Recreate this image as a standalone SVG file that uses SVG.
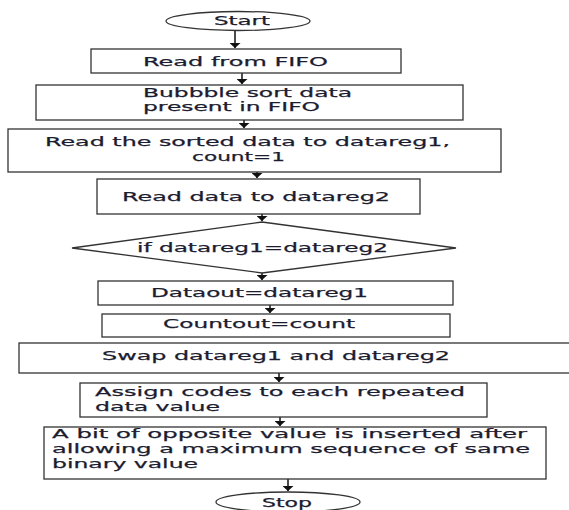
<svg xmlns="http://www.w3.org/2000/svg" width="569" height="510" viewBox="0 0 569 510">
<style>
.box{fill:#fff;stroke:#333;stroke-width:1.3}
.t{font-family:"DejaVu Sans",Verdana,sans-serif;font-size:13px;fill:#1c1c30;stroke:#1c1c30;stroke-width:0.25}
.c{stroke:#111;stroke-width:1.5;fill:none}
</style>
<defs>
<marker id="ah" viewBox="0 0 5 11" refX="5" refY="5.5" markerWidth="5" markerHeight="11" markerUnits="userSpaceOnUse" orient="auto">
<path d="M0,0 L5,5.5 L0,11 z" fill="#111"/>
</marker>
</defs>
<rect width="569" height="510" fill="#fff"/>
<g id="connectors">
<line class="c" x1="235" y1="30" x2="235" y2="48" marker-end="url(#ah)"/>
<line class="c" x1="242" y1="73" x2="242" y2="84" marker-end="url(#ah)"/>
<line class="c" x1="244" y1="120" x2="244" y2="128" marker-end="url(#ah)"/>
<line class="c" x1="257" y1="172" x2="257" y2="178" marker-end="url(#ah)"/>
<line class="c" x1="262" y1="214" x2="262" y2="221" marker-end="url(#ah)"/>
<line class="c" x1="262" y1="273" x2="262" y2="280" marker-end="url(#ah)"/>
<line class="c" x1="270" y1="305" x2="270" y2="313" marker-end="url(#ah)"/>
<line class="c" x1="279" y1="373" x2="279" y2="382" marker-end="url(#ah)"/>
<line class="c" x1="280" y1="417" x2="280" y2="426" marker-end="url(#ah)"/>
<line class="c" x1="288" y1="479" x2="288" y2="491" marker-end="url(#ah)"/>
</g>
<g id="start">
<ellipse class="box" cx="238" cy="21" rx="72" ry="9.5"/>
<text class="t" x="214" y="25" textLength="56" lengthAdjust="spacingAndGlyphs">Start</text>
</g>
<g id="read-fifo">
<rect class="box" x="91" y="49" width="310" height="24"/>
<text class="t" x="143" y="66" textLength="185" lengthAdjust="spacingAndGlyphs">Read from FIFO</text>
</g>
<g id="bubble">
<rect class="box" x="36" y="85" width="427" height="35"/>
<text class="t" x="143" y="97" textLength="209" lengthAdjust="spacingAndGlyphs">Bubbble sort data</text>
<text class="t" x="143" y="111" textLength="177" lengthAdjust="spacingAndGlyphs">present in FIFO</text>
</g>
<g id="read-sorted">
<rect class="box" x="8" y="129" width="493" height="43"/>
<text class="t" x="45" y="146" textLength="405" lengthAdjust="spacingAndGlyphs">Read the sorted data to datareg1,</text>
<text class="t" x="192" y="161" textLength="93" lengthAdjust="spacingAndGlyphs">count=1</text>
</g>
<g id="read-data2">
<rect class="box" x="97" y="179" width="323" height="35"/>
<text class="t" x="122" y="201" textLength="268" lengthAdjust="spacingAndGlyphs">Read data to datareg2</text>
</g>
<g id="decision">
<polygon class="box" points="262,222 456,248 262,273 72,248"/>
<text class="t" x="137" y="252" textLength="251" lengthAdjust="spacingAndGlyphs">if datareg1=datareg2</text>
</g>
<g id="dataout">
<rect class="box" x="98" y="281" width="355" height="24"/>
<text class="t" x="151" y="297" textLength="217" lengthAdjust="spacingAndGlyphs">Dataout=datareg1</text>
</g>
<g id="countout">
<rect class="box" x="102" y="314" width="348" height="23"/>
<text class="t" x="163" y="328" textLength="192" lengthAdjust="spacingAndGlyphs">Countout=count</text>
</g>
<g id="swap">
<rect class="box" x="19" y="343" width="560" height="30"/>
<text class="t" x="102" y="360" textLength="348" lengthAdjust="spacingAndGlyphs">Swap datareg1 and datareg2</text>
</g>
<g id="assign">
<rect class="box" x="80" y="383" width="407" height="34"/>
<text class="t" x="95" y="396" textLength="370" lengthAdjust="spacingAndGlyphs">Assign codes to each repeated</text>
<text class="t" x="95" y="411" textLength="125" lengthAdjust="spacingAndGlyphs">data value</text>
</g>
<g id="insert-bit">
<rect class="box" x="44" y="427" width="502" height="52"/>
<text class="t" x="52" y="438" textLength="475" lengthAdjust="spacingAndGlyphs">A bit of opposite value is inserted after</text>
<text class="t" x="52" y="453" textLength="478" lengthAdjust="spacingAndGlyphs">allowing a maximum sequence of same</text>
<text class="t" x="52" y="468" textLength="146" lengthAdjust="spacingAndGlyphs">binary value</text>
</g>
<g id="stop">
<ellipse class="box" cx="288" cy="502" rx="72" ry="10"/>
<text class="t" x="262" y="507" textLength="50" lengthAdjust="spacingAndGlyphs">Stop</text>
</g>
</svg>
